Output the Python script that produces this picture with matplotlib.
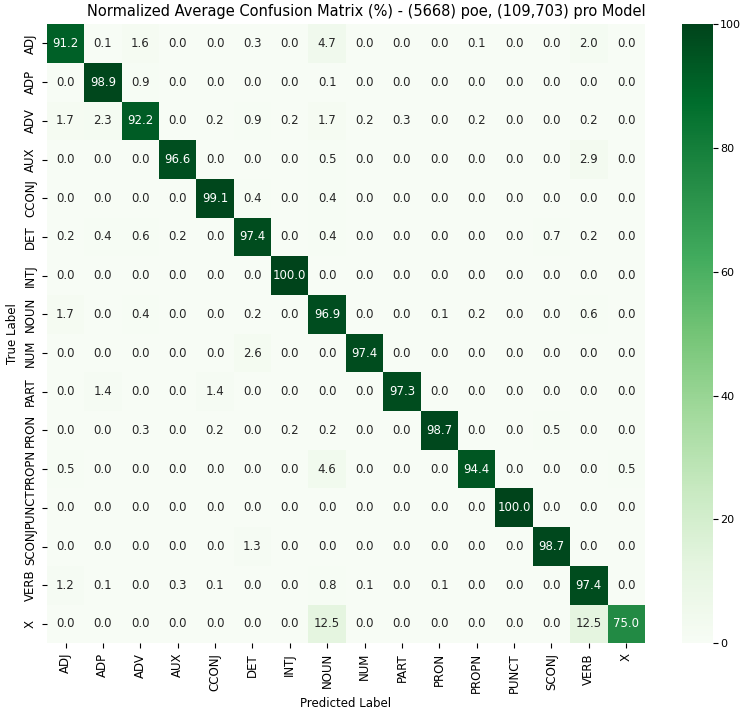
import numpy as np
import matplotlib.pyplot as plt
import seaborn as sns

labels = ['ADJ', 'ADP', 'ADV', 'AUX', 'CCONJ', 'DET', 'INTJ', 'NOUN',
          'NUM', 'PART', 'PRON', 'PROPN', 'PUNCT', 'SCONJ', 'VERB', 'X']

# rows = true label, columns = predicted label (percent)
row_adj = [91.2, 0.1, 1.6, 0.0, 0.0, 0.3, 0.0, 4.7, 0.0, 0.0, 0.0, 0.1, 0.0, 0.0, 2.0, 0.0]
row_adp = [0.0, 98.9, 0.9, 0.0, 0.0, 0.0, 0.0, 0.1, 0.0, 0.0, 0.0, 0.0, 0.0, 0.0, 0.0, 0.0]
row_adv = [1.7, 2.3, 92.2, 0.0, 0.2, 0.9, 0.2, 1.7, 0.2, 0.3, 0.0, 0.2, 0.0, 0.0, 0.2, 0.0]
row_aux = [0.0, 0.0, 0.0, 96.6, 0.0, 0.0, 0.0, 0.5, 0.0, 0.0, 0.0, 0.0, 0.0, 0.0, 2.9, 0.0]
row_cconj = [0.0, 0.0, 0.0, 0.0, 99.1, 0.4, 0.0, 0.4, 0.0, 0.0, 0.0, 0.0, 0.0, 0.0, 0.0, 0.0]
row_det = [0.2, 0.4, 0.6, 0.2, 0.0, 97.4, 0.0, 0.4, 0.0, 0.0, 0.0, 0.0, 0.0, 0.7, 0.2, 0.0]
row_intj = [0.0, 0.0, 0.0, 0.0, 0.0, 0.0, 100.0, 0.0, 0.0, 0.0, 0.0, 0.0, 0.0, 0.0, 0.0, 0.0]
row_noun = [1.7, 0.0, 0.4, 0.0, 0.0, 0.2, 0.0, 96.9, 0.0, 0.0, 0.1, 0.2, 0.0, 0.0, 0.6, 0.0]
row_num = [0.0, 0.0, 0.0, 0.0, 0.0, 2.6, 0.0, 0.0, 97.4, 0.0, 0.0, 0.0, 0.0, 0.0, 0.0, 0.0]
row_part = [0.0, 1.4, 0.0, 0.0, 1.4, 0.0, 0.0, 0.0, 0.0, 97.3, 0.0, 0.0, 0.0, 0.0, 0.0, 0.0]
row_pron = [0.0, 0.0, 0.3, 0.0, 0.2, 0.0, 0.2, 0.2, 0.0, 0.0, 98.7, 0.0, 0.0, 0.5, 0.0, 0.0]
row_propn = [0.5, 0.0, 0.0, 0.0, 0.0, 0.0, 0.0, 4.6, 0.0, 0.0, 0.0, 94.4, 0.0, 0.0, 0.0, 0.5]
row_punct = [0.0, 0.0, 0.0, 0.0, 0.0, 0.0, 0.0, 0.0, 0.0, 0.0, 0.0, 0.0, 100.0, 0.0, 0.0, 0.0]
row_sconj = [0.0, 0.0, 0.0, 0.0, 0.0, 1.3, 0.0, 0.0, 0.0, 0.0, 0.0, 0.0, 0.0, 98.7, 0.0, 0.0]
row_verb = [1.2, 0.1, 0.0, 0.3, 0.1, 0.0, 0.0, 0.8, 0.1, 0.0, 0.1, 0.0, 0.0, 0.0, 97.4, 0.0]
row_x = [0.0, 0.0, 0.0, 0.0, 0.0, 0.0, 0.0, 12.5, 0.0, 0.0, 0.0, 0.0, 0.0, 0.0, 12.5, 75.0]

cm = np.array([row_adj, row_adp, row_adv, row_aux, row_cconj, row_det, row_intj,
               row_noun, row_num, row_part, row_pron, row_propn, row_punct,
               row_sconj, row_verb, row_x])

fig = plt.figure(figsize=(7.43, 7.10), dpi=100)
ax = fig.add_axes([0.063, 0.094, 0.805, 0.872])
cax = fig.add_axes([0.918, 0.094, 0.041, 0.872])

sns.heatmap(cm, annot=True, fmt='.1f', cmap='Greens', vmin=0, vmax=100,
            xticklabels=labels, yticklabels=labels, ax=ax, cbar_ax=cax,
            annot_kws={'size': 8.5})

ax.set_title('Normalized Average Confusion Matrix (%) - (5668) poe, (109,703) pro Model',
             fontsize=10.5, x=0.535)
ax.set_xlabel('Predicted Label', fontsize=8.5, labelpad=3)
ax.set_ylabel('True Label', fontsize=8.5)
ax.tick_params(axis='x', labelrotation=90, labelsize=8.5)
ax.tick_params(axis='y', labelrotation=90, labelsize=8.5)
cax.tick_params(labelsize=8, pad=2)

fig.savefig('out.png', dpi=100)
